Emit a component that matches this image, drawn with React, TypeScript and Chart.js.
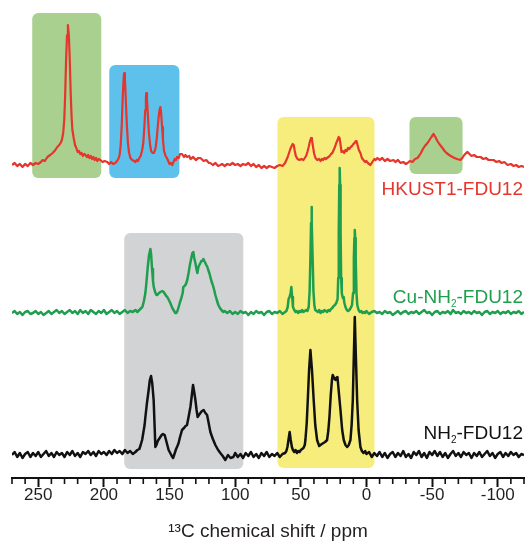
import React, { useEffect, useRef } from 'react';
import { Chart, registerables } from 'chart.js';

Chart.register(...registerables);

const FONT = "'Liberation Sans', Arial, Helvetica, sans-serif";

// x axis (ppm), reversed: left = 270, right = -120
const ppmMin = -120;
const ppmMax = 270;
const tickStep = 10;
const labelledTicks = [250, 200, 150, 100, 50, 0, -50, -100];
const axisTitle = '¹³C chemical shift / ppm';

// series names / colours / vertical offsets of baselines
const seriesLabels: [string, boolean][][] = [
  [['HKUST1-FDU12', false]],
  [['Cu-NH', false], ['2', true], ['-FDU12', false]],
  [['NH', false], ['2', true], ['-FDU12', false]],
];
const seriesColors = ['#e5352c', '#1f9f4e', '#111111'];
const seriesOffsets = [313, 165, 23];
const labelLevels = [283, 175, 39];

// [ppm, intensity]
const hkustSpectrum: [number, number][] = [
  [270,0],[268,2],[266,-1],[264,1],[262,-2],[260,1],[258,-1],[256,2],[254,0],[252,2],[250,1],[248,3],[246.6,5],[245,4],[243,8],[240.9,10],[239,12],[237,15],[235.5,18],[234,20],[233,22],[232,25],[231,32],[230.2,45],[229.5,70],[228.8,105],[228.1,130],[227.4,140],[226.7,130],[226,105],[225.3,72],[224.6,48],[224,35],[223,27],[222,20],[221,17],[220,13],[219,14],[218,11],[217,12],[216,9],[215,11],[214,10],[213,8],[212,10],[211,7],[210,9],[209,6],[208,8],[207,5],[206,7],[205,4],[204,6],[202.7,5],[201,3],[199.5,4],[197.4,3],[196,1],[194.5,3],[193,1],[191.3,2],[190,4],[189,6],[188,10],[187.2,20],[186.4,40],[185.6,70],[184.9,88],[184.5,92],[184,86],[183.3,65],[182.5,40],[181.7,22],[180.8,12],[179.8,7],[178.5,5],[177,4],[176,3],[175,5],[174,4],[173,7],[172,9],[171,14],[170,22],[169.2,38],[168.5,55],[168,68],[167.7,72],[167.2,66],[166.5,50],[165.7,32],[164.8,20],[164,14],[163,12],[162,12],[161.3,14],[160.5,18],[159.7,27],[159,38],[158.3,48],[157.6,55],[157,58],[156.4,52],[155.7,38],[155,25],[154.2,14],[153,9],[152,7],[151,4],[150,1],[149,2],[148,0],[147,3],[146,6],[145,5],[144.3,8],[143,7],[142,11],[140.5,11],[139,8],[138,10],[136.7,8],[135,9],[134,6],[132,8],[130,5],[128,7],[126.5,7],[124,4],[122,5],[120,2],[118.9,2],[117,0],[115,2],[113,-1],[111.3,0],[110,1],[108,-1],[106,1],[104,0],[102,2],[100,0],[98,1],[96,-1],[94,1],[92,0],[90,2],[88,-1],[86,1],[84,-2],[82,0],[80,-3],[78,-1],[76,-3],[74,-1],[72,-2],[70,-3],[68,-1],[66,0],[64,-1],[62,2],[61,5],[60,8],[59,12],[58,16],[57,19],[56.2,21],[55.4,20],[54.6,14],[53.8,9],[52.5,6],[51,5],[49.5,6],[48,5],[47,7],[46,9],[45,13],[44,18],[43,24],[42.2,27],[41.5,25],[40.7,18],[39.8,11],[38.8,7],[37.5,5],[36,6],[35,4],[34,6],[33,5],[32,7],[31,6],[30,7],[29,8],[28,9],[27,11],[26,12],[25,15],[24,18],[23,22],[22,25],[21.2,28],[20.5,27],[19.7,20],[19,13],[18,14],[17,12],[16,15],[15,14],[14,17],[13,16],[12,18],[11,19],[10,21],[9,22],[8.2,24],[7.6,24],[6.8,20],[5.8,15],[4.6,12],[3.5,7],[2.3,5],[1,3],[0,4],[-1,2],[-2,1],[-3,0],[-4,2],[-5,4],[-6,6],[-7,5],[-8.4,7],[-10,5],[-12,7],[-14,4],[-16,6],[-18,4],[-20.6,5],[-22,3],[-24,5],[-26,2],[-28,3],[-30,1],[-31.3,2],[-33,4],[-35,3],[-37,6],[-38.9,7],[-40,9],[-41.5,12],[-43,16],[-44.5,19],[-46.5,22],[-48,25],[-49.5,28],[-51.1,31],[-52.5,28],[-54,24],[-55.5,21],[-57.9,17],[-59.5,14],[-61,12],[-63,10],[-65.5,8],[-67,7],[-69,6],[-71.6,5],[-73,7],[-74.5,10],[-76,12],[-77,13],[-78.5,11],[-80,9],[-82,10],[-84,8],[-86.9,8],[-89,6],[-91,7],[-93,5],[-96.8,5],[-99,3],[-101,4],[-103,2],[-105,3],[-107.5,0],[-110,1],[-112,-1],[-114,0],[-116,-2],[-118,-1],[-120,-2],
];

const cuSpectrum: [number, number][] = [
  [270,0],[268,2],[266,-1],[264,1],[262,-2],[260,1],[258,2],[256,-1],[254,0],[252,2],[250,-1],[248,1],[246,-2],[244,0],[242,2],[240,-1],[238,1],[236,3],[234,0],[232,2],[230,-1],[228,1],[226,3],[224,0],[222,2],[220,-1],[218,3],[216,0],[214,2],[212,-1],[210,3],[208,1],[206,-1],[204,2],[202,0],[200,3],[198,-1],[196,1],[194,3],[192,0],[190,2],[188,-1],[186,1],[184,3],[182,0],[180,2],[178,1],[176,3],[174.5,1],[173,3],[171.5,5],[170.7,6],[169.5,12],[168.4,20],[167.5,32],[166.6,46],[165.6,58],[164.6,64],[164,58],[163.3,44],[162.6,32],[162,26],[161,21],[160,18],[159.3,18],[158,20],[157,21],[155.5,22],[154.5,21],[153.5,19],[152.5,17],[151.7,16],[150.5,13],[149.4,10],[148.5,7],[147.5,4],[146.5,2],[145.6,0],[144.8,0],[144,2],[143.3,5],[142.2,10],[141,15],[140,20],[139.5,26],[138.5,27],[137.5,29],[136.5,33],[135.5,40],[134.5,48],[133.4,55],[132.6,60],[131.9,61],[131.2,55],[130.3,50],[129.5,44],[128.8,40],[128,46],[127.3,48],[126.5,50],[125.8,52],[125,52],[124.2,54],[123.5,52],[122.7,50],[122,48],[121.2,46],[120.5,43],[119.7,40],[118.9,36],[118.1,32],[117.3,29],[116.6,26],[115.8,22],[115.1,18],[114,13],[112.8,8],[111.6,5],[110.5,3],[109,1],[108,2],[106,0],[104,2],[102,-1],[100,1],[98,-1],[96,2],[94,0],[92,1],[90,-2],[88,1],[86,-1],[84,2],[82,0],[80,1],[78,-2],[76,1],[74,2],[72,-1],[70,1],[68,0],[66,2],[64,-1],[62,1],[61,2],[60,6],[59.3,14],[58.6,16],[57.8,20],[57.2,26],[56.6,16],[56,6],[55,3],[54,1],[53,2],[52,0],[51,2],[50,1],[49,3],[48,1],[47,2],[46,3],[45,2],[44,6],[43.3,22],[42.7,55],[42.2,90],[41.9,106],[41.5,90],[41,55],[40.4,22],[39.7,8],[39,3],[38,2],[37,1],[36,3],[35,0],[34,2],[33,1],[32,3],[31,2],[30,1],[29,3],[28,2],[27,4],[26,5],[25,7],[24,8],[23,10],[22,14],[21.5,35],[21.1,80],[20.7,128],[20.4,145],[20.1,128],[19.7,80],[19.3,35],[18.8,20],[18,15],[17.4,16],[16.8,10],[16,6],[15,3],[14,2],[13,3],[12,5],[11,8],[10.2,20],[9.6,55],[9.2,75],[8.9,83],[8.6,75],[8.2,55],[7.6,20],[7,8],[6,3],[5,1],[4,2],[3,0],[2,1],[1,0],[0,2],[-2,-1],[-4,1],[-6,2],[-8,0],[-10,1],[-12,-1],[-14,2],[-16,0],[-18,1],[-20,-2],[-22,0],[-24,2],[-26,-1],[-28,1],[-30,2],[-32,-1],[-34,1],[-36,0],[-38,2],[-40,-1],[-42,1],[-44,3],[-46,0],[-48,1],[-50,-2],[-52,1],[-54,2],[-56,-1],[-58,1],[-60,0],[-62,2],[-64,-1],[-66,3],[-68,0],[-70,1],[-72,-1],[-74,2],[-76,0],[-78,1],[-80,-1],[-82,2],[-84,0],[-86,1],[-88,-2],[-90,1],[-92,2],[-94,-1],[-96,1],[-98,0],[-100,2],[-102,-1],[-104,1],[-106,0],[-108,2],[-110,-1],[-112,1],[-114,0],[-116,2],[-118,-1],[-120,1],
];

const nh2Spectrum: [number, number][] = [
  [270,0],[268,3],[266,-2],[264,2],[262,-3],[260,1],[258,3],[256,-2],[254,2],[252,-1],[250,3],[248,-2],[246,1],[244,4],[242,-1],[240,2],[238,-2],[236,3],[234,0],[232,2],[230,-2],[228,3],[226,0],[224,4],[222,-1],[220,2],[218,-2],[216,3],[214,1],[212,4],[210,0],[208,3],[206,-1],[204,4],[202,1],[200,3],[198,0],[196,4],[194,1],[192,5],[190,2],[188,4],[186,1],[184,5],[182,2],[180,4],[178,1],[176,3],[174.5,5],[173,6],[172,10],[170.9,15],[170,22],[169,30],[168.4,38],[167.2,52],[165.9,65],[165,75],[164.1,79],[163.2,72],[162.1,55],[161.4,30],[160.8,8],[160,10],[159,14],[158,16],[157,18],[156,20],[155,21],[153.7,20],[152.5,14],[151.5,9],[150.7,5],[149.5,2],[148.3,-1],[147.3,-3],[146,2],[145,6],[144,9],[143.1,12],[142,18],[140.5,25],[139,27],[137.8,29],[136.7,30],[135.5,38],[134.1,48],[133,60],[132.1,70],[131.2,63],[130.3,55],[129.4,45],[128.6,38],[127.6,40],[126.5,42],[125.3,44],[124,45],[122.7,42],[121.4,40],[120.2,32],[118.9,23],[117,16],[115.1,10],[113,5],[111.3,2],[109.5,-1],[107.5,-5],[105.5,0],[103.5,-3],[101.4,-2],[100,2],[98,-2],[96,1],[94,-3],[92,2],[90,-1],[88,3],[86,-2],[84,1],[82,-3],[80,2],[78,-1],[76,3],[74,-2],[72,1],[70,-1],[68,2],[66,-2],[64,1],[62,2],[61,4],[60.2,8],[59.3,16],[58.5,23],[57.7,15],[56.8,8],[56,5],[55,3],[54,5],[53,2],[52,4],[51,3],[50,5],[49,6],[48,7],[47,10],[46.5,15],[45.5,32],[44.7,55],[43.7,85],[42.7,105],[41.5,85],[40.2,55],[39,30],[37.6,15],[36,9],[35,10],[34,11],[32.8,12],[31.5,13],[30,15],[29,25],[28.2,38],[27.2,60],[26.3,75],[25.7,80],[25,78],[24.3,76],[23.6,75],[23,77],[22.1,78],[21.2,65],[20.5,55],[19.8,45],[18.5,25],[17.3,15],[16,10],[14.7,8],[13.5,10],[12.2,15],[11.3,30],[10.4,55],[9.6,100],[8.9,138],[8.1,100],[7.1,55],[6,25],[4.6,8],[3.5,4],[2.3,2],[1,4],[0,1],[-2,3],[-4,-2],[-6,2],[-8,-1],[-10,3],[-12,-2],[-14,2],[-16,-3],[-18,1],[-20,3],[-22,-2],[-24,2],[-26,-1],[-28,4],[-30,-2],[-32,1],[-34,-3],[-36,3],[-38,0],[-40,4],[-42,-2],[-44,2],[-46,-3],[-48,3],[-50,0],[-52,4],[-54,-1],[-56,3],[-58,-2],[-60,2],[-62,-3],[-64,1],[-66,4],[-68,-1],[-70,2],[-72,-2],[-74,3],[-76,0],[-78,2],[-80,-3],[-82,2],[-84,-1],[-86,3],[-88,-2],[-90,1],[-92,4],[-94,-1],[-96,2],[-98,-3],[-100,1],[-102,3],[-104,-2],[-106,2],[-108,-1],[-110,3],[-112,0],[-114,2],[-116,-2],[-118,1],[-120,0],
];

const spectra = [hkustSpectrum, cuSpectrum, nh2Spectrum];

// highlight boxes: ppm range and vertical range
const boxPpmFrom = [254.6, 195.9, 67.8, -32.8, 184.5];
const boxPpmTo = [202, 142.5, -6.1, -73.2, 93.8];
const boxTop = [465, 413, 361, 361, 245];
const boxBottom = [300, 300, 10, 304, 9];
const boxColors = ['#a9d08e', '#5dc1ec', '#f6ed7c', '#a9d08e', '#d1d3d4'];

const boxesPlugin = {
  id: 'boxes',
  beforeDatasetsDraw(chart: any) {
    const { ctx, scales } = chart;
    const xs = scales.x, ys = scales.y;
    ctx.save();
    boxPpmFrom.forEach((from, i) => {
      const x1 = xs.getPixelForValue(from);
      const x2 = xs.getPixelForValue(boxPpmTo[i]);
      const y1 = ys.getPixelForValue(boxTop[i]);
      const y2 = ys.getPixelForValue(boxBottom[i]);
      ctx.fillStyle = boxColors[i];
      ctx.beginPath();
      ctx.roundRect(Math.min(x1, x2), y1, Math.abs(x2 - x1), y2 - y1, 6);
      ctx.fill();
    });
    ctx.restore();
  },
};

const labelsPlugin = {
  id: 'seriesLabels',
  afterDatasetsDraw(chart: any) {
    const { ctx, scales } = chart;
    const xs = scales.x, ys = scales.y;
    const mainFont = `19px ${FONT}`;
    const subFont = `10px ${FONT}`;
    ctx.save();
    ctx.textBaseline = 'alphabetic';
    ctx.textAlign = 'left';
    seriesLabels.forEach((parts, i) => {
      let total = 0;
      const widths = parts.map(([t, sub]) => {
        ctx.font = sub ? subFont : mainFont;
        const w = ctx.measureText(t).width;
        total += w;
        return w;
      });
      let x = xs.getPixelForValue(ppmMin) - 1 - total;
      const y = ys.getPixelForValue(labelLevels[i]);
      ctx.fillStyle = seriesColors[i];
      parts.forEach(([t, sub], k) => {
        ctx.font = sub ? subFont : mainFont;
        ctx.fillText(t, x, sub ? y + 3.5 : y);
        x += widths[k];
      });
    });
    ctx.restore();
  },
};

const minorTicksPlugin = {
  id: 'minorTicks',
  afterDraw(chart: any) {
    const { ctx, scales } = chart;
    const xs = scales.x;
    ctx.save();
    ctx.strokeStyle = '#111111';
    ctx.lineWidth = 1.6;
    xs.ticks.forEach((t: any) => {
      if (labelledTicks.includes(t.value)) return;
      const px = xs.getPixelForValue(t.value);
      ctx.beginPath();
      ctx.moveTo(px, xs.top);
      ctx.lineTo(px, xs.top + 6);
      ctx.stroke();
    });
    ctx.restore();
  },
};

export default function App() {
  const canvasRef = useRef<HTMLCanvasElement | null>(null);

  useEffect(() => {
    if (!canvasRef.current) return;
    const datasets = spectra.map((spec, i) => ({
      label: seriesLabels[i].map((p) => p[0]).join(''),
      data: spec.map(([x, v]) => ({ x, y: v + seriesOffsets[i] })),
      borderColor: seriesColors[i],
      borderWidth: i === 0 ? 2.2 : 2.5,
      pointRadius: 0,
      tension: 0,
      fill: false,
      borderJoinStyle: 'round' as const,
    }));
    const chart = new Chart(canvasRef.current, {
      type: 'line',
      data: { datasets },
      options: {
        animation: false,
        responsive: false,
        layout: { padding: { left: 12, right: 1, top: 0, bottom: 0 } },
        plugins: { legend: { display: false }, tooltip: { enabled: false } },
        scales: {
          x: {
            type: 'linear',
            reverse: true,
            min: ppmMin,
            max: ppmMax,
            afterFit: (scale: any) => { scale.height = 65; },
            border: { display: true, color: '#111111', width: 2 },
            grid: {
              drawOnChartArea: false,
              drawTicks: true,
              tickLength: 9,
              tickWidth: 2,
              tickColor: (c: any) => (c.tick && labelledTicks.includes(c.tick.value) ? '#111111' : 'rgba(0,0,0,0)'),
            },
            ticks: {
              stepSize: tickStep,
              autoSkip: false,
              maxRotation: 0,
              minRotation: 0,
              padding: -2,
              color: '#231f20',
              font: { size: 17, family: FONT },
              callback: (v: any) => (labelledTicks.includes(Number(v)) ? String(v) : ''),
            },
            title: {
              display: true,
              text: axisTitle,
              color: '#231f20',
              font: { size: 19, family: FONT },
              padding: { top: 0, bottom: 0 },
            },
          },
          y: { type: 'linear', display: false, min: 0, max: 478 },
        },
      },
      plugins: [boxesPlugin, labelsPlugin, minorTicksPlugin],
    });
    return () => chart.destroy();
  }, []);

  return (
    <div style={{ position: 'fixed', left: 0, top: 0, width: 525, height: 543, background: '#fff' }}>
      <canvas ref={canvasRef} width={525} height={543} style={{ display: 'block' }} />
    </div>
  );
}
